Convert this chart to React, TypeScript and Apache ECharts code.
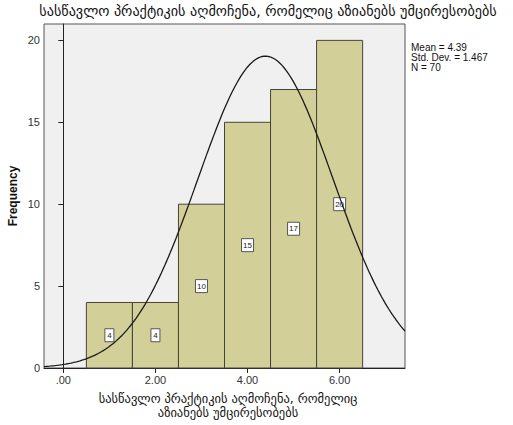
import React, { useEffect, useRef } from "react";
import * as echarts from "echarts";

const titleText = "სასწავლო პრაქტიკის აღმოჩენა, რომელიც აზიანებს უმცირესობებს";
const xTitleLines = ["სასწავლო პრაქტიკის აღმოჩენა, რომელიც", "აზიანებს უმცირესობებს"];
const binStarts = [0.5, 1.5, 2.5, 3.5, 4.5, 5.5];
const binEnds = [1.5, 2.5, 3.5, 4.5, 5.5, 6.5];
const frequencies = [4, 4, 10, 15, 17, 20];
const xTicks = [0, 2, 4, 6];
const yTicks = [0, 5, 10, 15, 20];
const statsLines = ["Mean = 4.39", "Std. Dev. = 1.467", "N = 70"];
const MEAN = 4.39;
const SD = 1.467;
const N = 70;
const BIN_WIDTH = 1;
const X_MIN = -0.42;
const X_MAX = 7.42;

function normalCurve(): number[][] {
  const pts: number[][] = [];
  const steps = 200;
  for (let i = 0; i <= steps; i++) {
    const x = X_MIN + ((X_MAX - X_MIN) * i) / steps;
    const z = (x - MEAN) / SD;
    const y = (N * BIN_WIDTH) / (SD * Math.sqrt(2 * Math.PI)) * Math.exp(-0.5 * z * z);
    pts.push([x, y]);
  }
  return pts;
}

export default function App() {
  const ref = useRef<HTMLDivElement>(null);
  useEffect(() => {
    if (!ref.current) return;
    const chart = echarts.init(ref.current, null, { renderer: "svg" });
    const barData = binStarts.map((s, i) => [s, binEnds[i], frequencies[i]]);
    chart.setOption({
      animation: false,
      backgroundColor: "#ffffff",
      grid: {
        left: 44,
        top: 24,
        right: 108,
        bottom: 57,
        show: true,
        backgroundColor: "#F0F0F0",
        borderColor: "#555555",
        borderWidth: 1,
      },
      xAxis: {
        type: "value",
        min: X_MIN,
        max: X_MAX,
        splitLine: { show: false },
        axisLine: { show: true, onZero: false, lineStyle: { color: "#222", width: 1 } },
        axisTick: { show: true, length: 5, customValues: xTicks, lineStyle: { color: "#222" } },
        axisLabel: {
          customValues: xTicks,
          color: "#333",
          fontFamily: "Liberation Sans, Arial",
          fontSize: 11,
          margin: 6,
          formatter: (v: number) => (v === 0 ? ".00" : v.toFixed(2)),
        },
      },
      yAxis: {
        type: "value",
        min: 0,
        max: 21,
        splitLine: { show: false },
        axisLine: { show: true, lineStyle: { color: "#222", width: 1 } },
        axisTick: { show: true, length: 5, customValues: yTicks, lineStyle: { color: "#222" } },
        axisLabel: {
          customValues: yTicks,
          color: "#333",
          fontFamily: "Liberation Sans, Arial",
          fontSize: 11,
          margin: 4,
        },
      },
      series: [
        {
          type: "custom",
          data: barData,
          encode: { x: [0, 1], y: 2 },
          z: 2,
          renderItem: (params: any, api: any) => {
            const s = api.value(0);
            const e = api.value(1);
            const f = api.value(2);
            const p0 = api.coord([s, 0]);
            const p1 = api.coord([e, f]);
            const cx = (p0[0] + p1[0]) / 2;
            const cy = api.coord([s, f / 2])[1];
            const label = String(f);
            const bw = label.length > 1 ? 12 : 9;
            return {
              type: "group",
              children: [
                {
                  type: "rect",
                  shape: { x: p0[0], y: p1[1], width: p1[0] - p0[0], height: p0[1] - p1[1] },
                  style: { fill: "#D3CF98", stroke: "#44443a", lineWidth: 1 },
                },
                {
                  type: "rect",
                  z2: 20,
                  shape: { x: cx - bw / 2, y: cy - 6.5, width: bw, height: 13 },
                  style: { fill: "#ffffff", stroke: "#555555", lineWidth: 1 },
                },
                {
                  type: "text",
                  z2: 21,
                  style: {
                    x: cx,
                    y: cy,
                    text: label,
                    align: "center",
                    verticalAlign: "middle",
                    fontSize: 8,
                    fontFamily: "Liberation Sans, Arial",
                    fill: "#222",
                  },
                },
              ],
            };
          },
        },
        {
          type: "line",
          data: normalCurve(),
          showSymbol: false,
          symbol: "none",
          z: 3,
          lineStyle: { color: "#1a1a1a", width: 1.3 },
          clip: true,
        },
      ],
      graphic: [
        {
          type: "text",
          x: 268,
          y: 4,
          style: {
            text: titleText,
            align: "center",
            verticalAlign: "top",
            fontSize: 14.2,
            fontFamily: "DejaVu Sans",
            fill: "#111",
          },
        },
        {
          type: "text",
          x: 228,
          y: 391,
          style: {
            text: xTitleLines.join("\n"),
            align: "center",
            verticalAlign: "top",
            fontSize: 12.5,
            lineHeight: 14,
            fontFamily: "DejaVu Sans",
            fill: "#111",
          },
        },
        {
          type: "text",
          x: 13,
          y: 196,
          rotation: Math.PI / 2,
          style: {
            text: "Frequency",
            align: "center",
            verticalAlign: "middle",
            fontSize: 12,
            fontWeight: "bold",
            fontFamily: "Liberation Sans, Arial",
            fill: "#111",
          },
        },
        {
          type: "text",
          x: 411,
          y: 42,
          style: {
            text: statsLines.join("\n"),
            fontSize: 10,
            lineHeight: 10,
            fontFamily: "Liberation Sans, Arial",
            fill: "#111",
          },
        },
      ],
    });
    return () => chart.dispose();
  }, []);
  return <div ref={ref} style={{ width: 513, height: 425, position: "absolute", left: 0, top: 0 }} />;
}
